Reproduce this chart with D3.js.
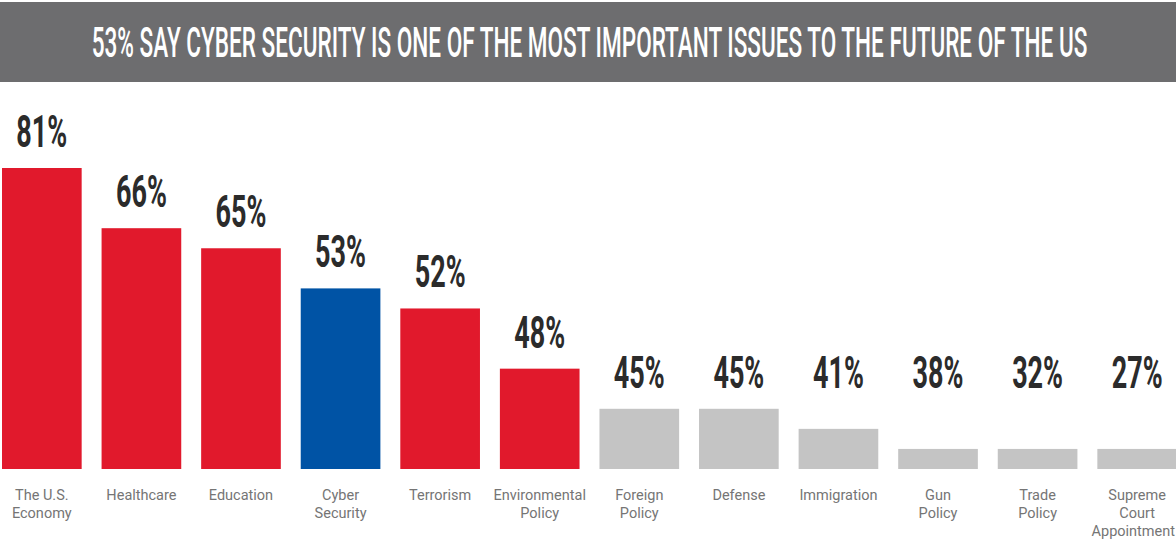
<!DOCTYPE html>
<html>
<head>
<meta charset="utf-8">
<script src="https://cdn.jsdelivr.net/npm/d3@7"></script>
<style>
  body { margin: 0; background: #fff; }
  svg { display: block; }
</style>
</head>
<body>
<div id="chart"></div>
<script>
// chart data
const title = "53% SAY CYBER SECURITY IS ONE OF THE MOST IMPORTANT ISSUES TO THE FUTURE OF THE US";
const categories = ["The U.S.|Economy", "Healthcare", "Education", "Cyber|Security", "Terrorism",
    "Environmental|Policy", "Foreign|Policy", "Defense", "Immigration", "Gun|Policy", "Trade|Policy",
    "Supreme|Court|Appointment"];
const percents = [81, 66, 65, 53, 52, 48, 45, 45, 41, 38, 32, 27];
// the bars in the graphic are drawn in steps, not in proportion to the percent
const barLevels = [15, 12, 11, 9, 8, 5, 3, 3, 2, 1, 1, 1];
const groups = ["top", "top", "top", "focus", "top", "top", "other", "other", "other", "other", "other", "other"];

const width = 1176, height = 540;
const margin = {top: 168, left: 2, right: -1, bottom: 71};
const minLabelLevel = 3; // labels never drop below this level

let svg = d3.select("#chart").append("svg")
    .attr("width", width)
    .attr("height", height);

// title banner
svg.append("rect")
    .attr("x", 0).attr("y", 2)
    .attr("width", width).attr("height", 80)
    .attr("fill", "#6d6d6f");

let titleText = svg.append("text")
    .attr("text-anchor", "middle")
    .attr("fill", "#fff")
    .attr("font-family", "Roboto")
    .attr("font-weight", 500)
    .attr("font-size", 43)
    .text(title);

// squeeze the title to the condensed width of the original
let titleW = titleText.node().getComputedTextLength();
titleText.attr("transform", `translate(589.5,57) scale(${996 / titleW},1)`);

let x = d3.scaleBand()
    .domain(categories)
    .range([margin.left, width - margin.right])
    .paddingInner(0.2)
    .paddingOuter(0);

let y = d3.scaleLinear()
    .domain([0, d3.max(barLevels)])
    .range([height - margin.bottom, margin.top]);

let color = d3.scaleOrdinal()
    .domain(["top", "focus", "other"])
    .range(["#e1192c", "#0053a5", "#c4c4c4"]);

let data = categories.map((c, i) => ({cat: c, pct: percents[i], level: barLevels[i], group: groups[i]}));

svg.append("g")
    .selectAll("rect")
    .data(data)
    .join("rect")
    .attr("x", d => x(d.cat))
    .attr("y", d => y(d.level))
    .attr("width", x.bandwidth())
    .attr("height", d => y(0) - y(d.level))
    .attr("fill", d => color(d.group));

// value labels, condensed by squeezing the glyphs
svg.append("g")
    .selectAll("text")
    .data(data)
    .join("text")
    .attr("transform", d => `translate(${x(d.cat) + x.bandwidth() / 2},${y(Math.max(d.level, minLabelLevel)) - 21}) scale(0.6,1)`)
    .attr("text-anchor", "middle")
    .attr("fill", "#2b2b2b")
    .attr("font-family", "Roboto")
    .attr("font-weight", 700)
    .attr("font-size", 45)
    .text(d => d.pct + "%");

// category labels
let axis = svg.append("g")
    .attr("transform", `translate(0,${height - margin.bottom})`);

axis.selectAll("text")
    .data(data)
    .join("text")
    .attr("x", d => x(d.cat) + x.bandwidth() / 2)
    .attr("y", 31)
    .attr("text-anchor", "middle")
    .attr("fill", "#757575")
    .attr("font-family", "Roboto")
    .attr("font-size", 14.5)
    .each(function (d) {
        let cx = x(d.cat) + x.bandwidth() / 2;
        let lines = d.cat.split("|");
        d3.select(this).selectAll("tspan")
            .data(lines)
            .join("tspan")
            .attr("x", cx)
            .attr("dy", (l, j) => j === 0 ? 0 : 18)
            .each(function (l) {
                // keep a long line inside the right edge
                let t = d3.select(this).text(l);
                let w = this.getComputedTextLength();
                if (cx + w / 2 > width - 1) t.attr("x", width - 1 - w / 2);
            });
    });
</script>
</body>
</html>
